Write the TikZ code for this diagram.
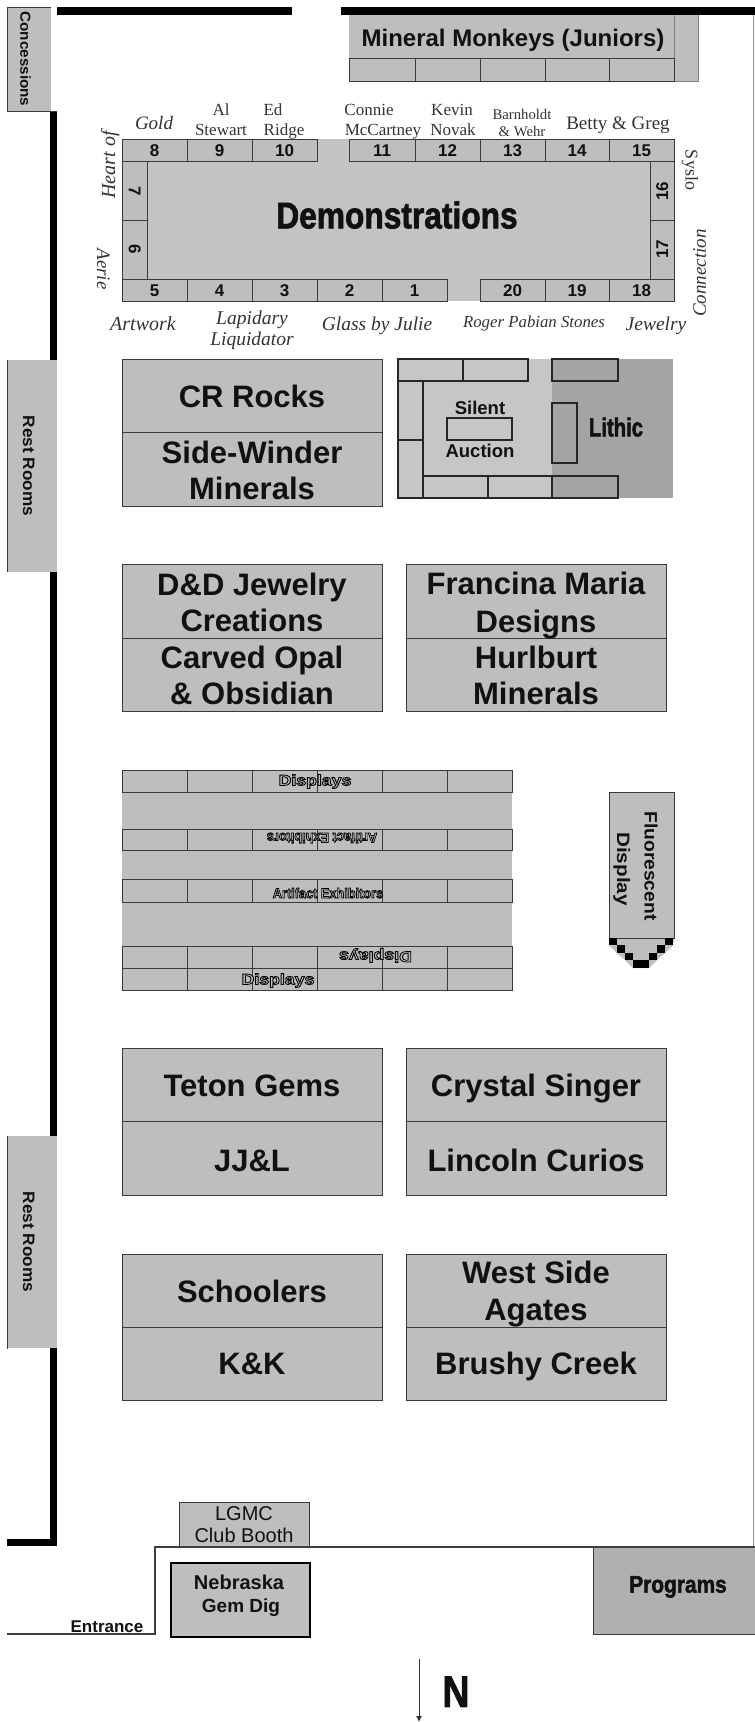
\documentclass[tikz,border=0pt]{standalone}
\usetikzlibrary{arrows.meta}
\usepackage{fontspec}
\usepackage{graphicx}
\setmainfont{Liberation Sans}
\newfontfamily\timesf{Liberation Serif}
\newfontfamily\heavyf[BoldFeatures={FakeBold=2}]{Liberation Sans}
\newcommand{\xs}[2]{\scalebox{#1}[1]{#2}}
\newcommand{\outl}[1]{{\color{black!25}\special{pdf:code 0 0 0 RG 2 Tr 0.8 w}#1\special{pdf:code 0 Tr}}}
\definecolor{boothgray}{HTML}{BEBEBE}
\definecolor{paleboothgray}{HTML}{C6C6C6}
\definecolor{lithicgray}{HTML}{A4A4A4}
\definecolor{proggray}{HTML}{B0B0B0}
\definecolor{edge}{HTML}{3A3A3A}
\definecolor{ink}{HTML}{111111}
\tikzset{
  txt/.style={inner sep=0pt,text=ink,text height=0.72*#1pt,text depth=0pt,align=center},
  bt/.style={txt=#1,font=\fontsize{#1}{#1}\selectfont\bfseries},
  rt/.style={txt=#1,font=\fontsize{#1}{#1}\selectfont},
  ht/.style={txt=#1,font=\heavyf\fontsize{#1}{#1}\selectfont\bfseries},
  st/.style={txt=#1,text=black!80,font=\timesf\fontsize{#1}{#1}\selectfont},
  it/.style={txt=#1,text=black!80,font=\timesf\fontsize{#1}{#1}\selectfont\itshape},
  booth/.style={draw=edge,line width=0.9pt,fill=boothgray},
  open/.style={draw=edge,line width=0.9pt},
  wall/.style={fill=black},
  thinwall/.style={draw=black!75,line width=1.1pt}
}
\begin{document}
\begin{tikzpicture}[x=1pt,y=-1pt]
\useasboundingbox (0,0) rectangle (755,1722);
\fill[white] (0,0) rectangle (755,1722);

% walls
\fill[wall] (57,7) rectangle (292,15);
\fill[wall] (341,7) rectangle (755,15);
\fill[wall] (50,111) rectangle (57,1546);
\fill[wall] (7,1539) rectangle (57,1546);
\draw[draw=black!45,line width=0.8pt] (753.7,15) -- (753.7,1547);

% concessions and rest rooms
\fill[boothgray] (7,7) rectangle (51,111);
\draw[edge,line width=0.9pt] (51,7) -- (7,7) -- (7,111) -- (57,111);
\node[bt=14.5,rotate=-90] (concessions) at (25.5,59) {\xs{1.05}{Concessions}};
\fill[boothgray] (7,360) rectangle (57,572);
\draw[edge,line width=0.9pt] (7,360) -- (7,572);
\node[bt=16.5,rotate=-90] (rest1) at (29,466) {\xs{1.04}{Rest Rooms}};
\fill[boothgray] (7,1136) rectangle (57,1348);
\draw[edge,line width=0.9pt] (7,1136) -- (7,1349);
\node[bt=16.5,rotate=-90] (rest2) at (29,1242) {\xs{1.04}{Rest Rooms}};

% mineral monkeys
\fill[boothgray] (349,15) rectangle (698,81);
\draw[black!50,line width=0.8pt] (674,15) -- (674,81);
\draw[black!50,line width=0.8pt] (698,15) -- (698,81) -- (674,81);
\foreach \a/\b in {349/415,415/480,480/545,545/609,609/674}
  \draw[open] (\a,58) rectangle (\b,81);
\node[bt=24] (monkeys) at (513,38) {Mineral Monkeys (Juniors)};

% demonstrations
\fill[boothgray!92!white] (122,139) rectangle (674,301);
\foreach \a/\b/\n/\lab in {122/187/8/8,187/252/9/9,252/317/10/10,349/415/11/11,415/480/12/12,480/545/13/13,545/609/14/14,609/674/15/15}{
  \draw[booth] (\a,139) rectangle (\b,161);
  \node[bt=17] (num\n) at ({(\a+\b)/2},150) {\lab};
}
\foreach \a/\b/\n in {122/187/5,187/252/4,252/317/3,317/382/2,382/447/1,480/545/20,545/609/19,609/674/18}{
  \draw[booth] (\a,279) rectangle (\b,301);
  \node[bt=17] (num\n) at ({(\a+\b)/2},290) {\n};
}
\draw[booth] (122,161) rectangle (147,220);
\draw[booth] (122,220) rectangle (147,279);
\draw[booth] (650,161) rectangle (674,220);
\draw[booth] (650,220) rectangle (674,279);
\node[bt=17,rotate=-90] (num7) at (135,191) {7};
\node[bt=17,rotate=-90] (num6) at (135,249) {6};
\node[bt=17,rotate=90] (num16) at (662,191) {16};
\node[bt=17,rotate=90] (num17) at (662,249) {17};
\node[ht=37] (demo) at (397,215) {\xs{0.857}{Demonstrations}};

% names around demonstrations
\node[it=19] (gold) at (154,123) {Gold};
\node[st=17] (al) at (221,109) {Al};
\node[st=17] (stewart) at (221,129) {Stewart};
\node[st=17] (ed) at (273,109) {Ed};
\node[st=17] (ridge) at (284,129) {Ridge};
\node[st=17] (connie) at (369,109) {Connie};
\node[st=17] (mccartney) at (383,129) {McCartney};
\node[st=17] (kevin) at (452,109) {Kevin};
\node[st=17] (novak) at (453,129) {Novak};
\node[st=14.7] (barnholdt) at (522,114) {Barnholdt};
\node[st=14.7] (wehr) at (522,131) {\& Wehr};
\node[st=19] (betty) at (618,123) {Betty \& Greg};
\node[it=20,rotate=90] (heart) at (108,165) {Heart of};
\node[it=19,rotate=-90] (aerie) at (104,269) {Aerie};
\node[st=18,rotate=-90] (syslo) at (692,170) {Syslo};
\node[it=19,rotate=90] (connection) at (699,273) {Connection};
\node[it=20] (artwork) at (143,323) {Artwork};
\node[it=19.5] (lapidary) at (252,317) {Lapidary};
\node[it=19.5] (liquidator) at (252,338) {Liquidator};
\node[it=19.5] (glass) at (377,323) {Glass by Julie};
\node[it=16.8] (roger) at (534,321) {Roger Pabian Stones};
\node[it=19.5] (jewelry) at (656,323) {Jewelry};

% silent auction / lithic
\fill[paleboothgray] (398,359) rectangle (552,498);
\fill[lithicgray] (552,359) rectangle (673,498);
\foreach \a/\b/\c/\d in {398/463/359/381,463/528/359/381,552/618/359/381,398/423/381/440,398/423/440/498,423/488/476/498,488/552/476/498,552/618/476/498,447/512/418/440,552/577/403/463}
  \draw[black!85,line width=1.1pt] (\a,\c) rectangle (\b,\d);
\node[bt=18.5] (silent) at (480,408) {Silent};
\node[bt=18.5] (auction) at (480,451) {Auction};
\node[ht=26] (lithic) at (616,427) {\xs{0.78}{Lithic}};

% vendor blocks
\foreach \xa/\xb/\ya/\ym/\yb in {122.5/382/359/432/506,122.5/382/564/638/711,406/666/564/638/711,122.5/382/1048/1121/1195,406/666/1048/1121/1195,122.5/382/1254/1327/1400,406/666/1254/1327/1400}{
  \draw[booth] (\xa,\ya) rectangle (\xb,\ym);
  \draw[booth] (\xa,\ym) rectangle (\xb,\yb);
}
\node[bt=31] (crrocks) at (252,396) {CR Rocks};
\node[bt=31] (sidewinder) at (252,452) {Side-Winder};
\node[bt=31] (minerals1) at (252,488) {Minerals};
\node[bt=31] (dd) at (252,584) {D\&D Jewelry};
\node[bt=31] (creations) at (252,620) {Creations};
\node[bt=31] (carved) at (252,657) {Carved Opal};
\node[bt=31] (obsidian) at (252,693) {\& Obsidian};
\node[bt=31] (francina) at (536,583) {Francina Maria};
\node[bt=31] (designs) at (536,621) {Designs};
\node[bt=31] (hurlburt) at (536,657) {Hurlburt};
\node[bt=31] (minerals2) at (536,693) {Minerals};
\node[bt=31] (teton) at (252,1085) {Teton Gems};
\node[bt=31] (jjl) at (252,1160) {JJ\&L};
\node[bt=31] (crystal) at (536,1085) {Crystal Singer};
\node[bt=31] (lincoln) at (536,1160) {Lincoln Curios};
\node[bt=31] (schoolers) at (252,1291) {Schoolers};
\node[bt=31] (kk) at (252,1363) {K\&K};
\node[bt=31] (westside) at (536,1272) {West Side};
\node[bt=31] (agates) at (536,1309) {Agates};
\node[bt=31] (brushy) at (536,1363) {Brushy Creek};

% displays
\fill[boothgray] (122,770) rectangle (512,990);
\foreach \ya/\yb in {770/792,829/850,879/902,946/968,968/990}
  \foreach \a/\b in {122/187,187/252,252/317,317/382,382/447,447/512}
    \draw[edge,line width=0.8pt] (\a,\ya) rectangle (\b,\yb);
\node[bt=15] (disp1) at (315,780) {\xs{1.18}{\outl{Displays}}};
\node[bt=14,rotate=180] (art1) at (322,838) {\xs{0.91}{\outl{Artifact Exhibitors}}};
\node[bt=14] (art2) at (328,893) {\xs{0.91}{\outl{Artifact Exhibitors}}};
\node[bt=15,rotate=180] (disp2) at (375.5,957) {\xs{1.18}{\outl{Displays}}};
\node[bt=15] (disp3) at (278,979) {\xs{1.18}{\outl{Displays}}};

% fluorescent display
\fill[boothgray] (609,792) -- (674,792) -- (674,938) -- (673,945) -- (665,953) -- (657,960) -- (649,968) -- (633,968) -- (625,960) -- (617,953) -- (609,945) -- cycle;
\draw[edge,line width=0.9pt] (609,938) -- (609,792) -- (674,792) -- (674,938) -- cycle;
\foreach \a/\b/\c/\d in {609/617/938/945,617/625/945/953,625/633/953/960,633/649/960/968,649/657/953/960,657/665/945/953,665/673/938/945}
  \fill[black] (\a,\c) rectangle (\b,\d);
\node[bt=18,rotate=-90] (fluor) at (651,866) {\xs{1.07}{Fluorescent}};
\node[bt=18,rotate=-90] (fdisplay) at (623.5,869) {\xs{1.15}{Display}};

% entrance area
\draw[booth] (179,1502) rectangle (309,1547);
\node[rt=20] (lgmc) at (244,1513) {LGMC};
\node[rt=20] (club) at (244,1535) {Club Booth};
\fill[proggray] (593,1547) rectangle (755,1634);
\draw[edge,line width=1pt] (755,1634) -- (593,1634) -- (593,1547);
\draw[thinwall] (7,1634) -- (155,1634) -- (155,1547) -- (755,1547);
\node[ht=24] (programs) at (678,1584) {\xs{0.87}{Programs}};
\draw[draw=black,line width=1.8pt,fill=boothgray] (171,1563) rectangle (310,1637);
\node[bt=20] (nebraska) at (239,1582) {Nebraska};
\node[bt=19] (gemdig) at (241,1606) {Gem Dig};
\node[bt=17] (entrance) at (107,1626) {Entrance};

% north arrow
\coordinate (arrowtop) at (419,1659);
\coordinate (arrowtip) at (419,1722);
\draw[-{Latex[length=6pt,width=6pt]},black!80,line width=0.9pt] (arrowtop) -- (arrowtip);
\node[ht=44] (north) at (456,1691) {\xs{0.85}{N}};
\end{tikzpicture}
\end{document}
